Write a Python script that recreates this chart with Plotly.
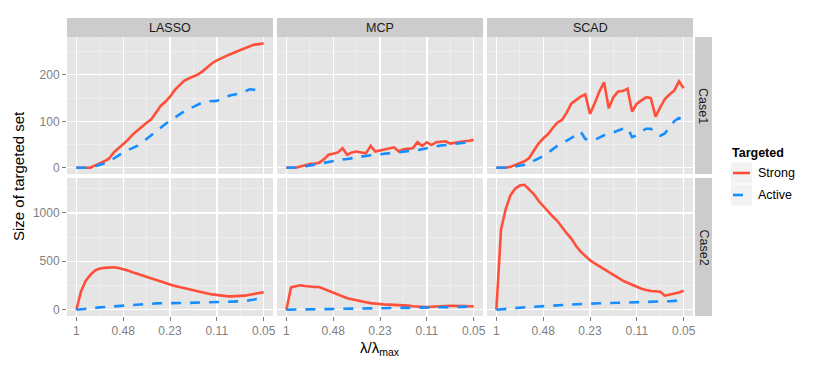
import plotly.graph_objects as go

# ---------------- data ----------------
lam = [1.0, 0.9278, 0.8609, 0.7988, 0.7411, 0.6877, 0.6380, 0.5920, 0.5493, 0.5097,
       0.4729, 0.4388, 0.4071, 0.3777, 0.3505, 0.3252, 0.3017, 0.2800, 0.2598, 0.2410,
       0.2236, 0.2075, 0.1925, 0.1786, 0.1657, 0.1538, 0.1427, 0.1324, 0.1228, 0.1140,
       0.1057, 0.0981, 0.0910, 0.0845, 0.0784, 0.0727, 0.0675, 0.0626, 0.0581, 0.0539, 0.0500]

methods = ["LASSO", "MCP", "SCAD"]
cases = ["Case1", "Case2"]
series_names = ["Strong", "Active"]

x_tick_vals = [1.0, 0.4729, 0.2236, 0.1057, 0.05]
x_tick_text = ["1", "0.48", "0.23", "0.11", "0.05"]
x_minor_vals = [0.6877, 0.3252, 0.1538, 0.0727]

y_tick_vals = {"Case1": [0, 100, 200], "Case2": [0, 500, 1000]}
y_minor_vals = {"Case1": [50, 150, 250], "Case2": [250, 750, 1250]}
y_ranges = {"Case1": [-13.4, 281.4], "Case2": [-65, 1360]}

lasso_c1_strong = [0, 0, 0, 0, 5, 9, 14, 20, 33, 42, 50, 60, 71, 80, 88, 97, 104, 120, 133, 142,
                   153, 167, 178, 187, 192, 196, 201, 208, 217, 225, 231, 236, 241, 245, 249, 253,
                   257, 262, 265, 266, 268]
lasso_c1_active = [0, 0, 0, 0, 3, 6, 9, 13, 20, 27, 33, 38, 43, 47, 54, 62, 70, 78, 87, 96,
                   102, 108, 115, 122, 128, 131, 136, 141, 143, 144, 144, 148, 153, 156, 158, 160,
                   164, 169, 168, 166, 168]
mcp_c1_strong = [0, 0, 0, 3, 6, 8, 9, 11, 18, 28, 30, 33, 42, 28, 33, 35, 33, 31, 47, 35,
                 37, 39, 41, 44, 35, 40, 41, 42, 55, 47, 55, 49, 55, 56, 57, 52, 54, 55, 57, 58, 60]
mcp_c1_active = [0, 0, 0, 1, 3, 5, 6, 8, 11, 13, 14, 16, 18, 19, 20, 22, 24, 26, 27, 28,
                 29, 30, 31, 32, 33, 34, 35, 37, 38, 40, 42, 45, 47, 48, 49, 50, 51, 52, 54, 56, 57]
scad_c1_strong = [0, 0, 0, 2, 6, 9, 14, 21, 38, 52, 63, 72, 85, 97, 103, 118, 138, 146, 153, 158,
                  116, 139, 164, 184, 128, 152, 164, 165, 170, 121, 138, 145, 152, 150, 110, 130,
                  148, 158, 166, 186, 171]
scad_c1_active = [0, 0, 0, 1, 3, 5, 6, 8, 15, 20, 25, 32, 40, 47, 52, 58, 65, 70, 78, 62,
                  60, 60, 65, 70, 72, 76, 80, 84, 86, 66, 70, 78, 84, 84, 74, 69, 74, 88, 100, 107, 102]

lasso_c2_strong = [0, 190, 300, 360, 405, 425, 432, 436, 438, 430, 420, 405, 386, 370, 355, 343,
                   328, 310, 290, 272, 258, 246, 234, 222, 210, 200, 188, 178, 168, 158, 150, 145,
                   140, 138, 138, 138, 145, 155, 163, 172, 180]
lasso_c2_active = [0, 3, 7, 12, 19, 24, 28, 32, 36, 39, 41, 44, 48, 52, 56, 59, 62, 65, 67, 69,
                   69, 69, 69, 69, 70, 71, 72, 73, 74, 76, 77, 78, 79, 79, 80, 82, 88, 97, 105, 115, 122]
mcp_c2_strong = [0, 230, 242, 252, 245, 238, 235, 234, 215, 195, 175, 155, 135, 118, 108, 100,
                 90, 78, 68, 62, 57, 54, 52, 50, 49, 48, 42, 36, 32, 29, 28, 31, 36, 38, 39, 40,
                 41, 40, 38, 36, 34]
mcp_c2_active = [0, 1, 2, 3, 4, 5, 6, 6, 7, 8, 9, 9, 10, 11, 11, 12, 13, 13, 14, 15,
                 15, 16, 17, 17, 18, 19, 19, 20, 21, 21, 22, 23, 23, 24, 25, 26, 27, 28, 29, 30, 32]
scad_c2_strong = [0, 830, 1040, 1180, 1250, 1282, 1290, 1245, 1195, 1125, 1070, 1015, 965, 918,
                  850, 790, 735, 660, 600, 555, 510, 478, 448, 420, 392, 360, 325, 300, 278, 255,
                  232, 216, 204, 193, 190, 185, 145, 155, 165, 178, 196]
scad_c2_active = [0, 5, 10, 15, 20, 24, 26, 28, 30, 32, 34, 36, 40, 44, 48, 51, 54, 57, 59, 61,
                  62, 64, 66, 67, 68, 69, 70, 71, 73, 74, 76, 77, 78, 80, 81, 83, 85, 88, 91, 94, 97]

data = {
    ("Case1", "LASSO"): (lasso_c1_strong, lasso_c1_active),
    ("Case1", "MCP"): (mcp_c1_strong, mcp_c1_active),
    ("Case1", "SCAD"): (scad_c1_strong, scad_c1_active),
    ("Case2", "LASSO"): (lasso_c2_strong, lasso_c2_active),
    ("Case2", "MCP"): (mcp_c2_strong, mcp_c2_active),
    ("Case2", "SCAD"): (scad_c2_strong, scad_c2_active),
}

# ---------------- style / layout ----------------
W, H = 830, 369
FONT = "Liberation Sans, Arial, Helvetica, sans-serif"
RED = "#FF4F3A"
BLUE = "#168EFF"
col_px = [(67, 273), (277, 483), (487, 693)]
row_px = [(37, 174), (178, 316)]
x_range = [0.065, -1.366]  # log10 units, reversed

fig = go.Figure()
layout = dict(
    width=W, height=H,
    margin=dict(l=0, r=0, t=0, b=0),
    paper_bgcolor="white",
    plot_bgcolor="#E5E5E5",
    showlegend=False,
    font=dict(family=FONT, size=12, color="#1A1A1A"),
)

for r, case in enumerate(cases):
    for c, meth in enumerate(methods):
        i = r * 3 + c + 1
        xa = "x" if i == 1 else f"x{i}"
        ya = "y" if i == 1 else f"y{i}"
        strong, active = data[(case, meth)]
        fig.add_trace(go.Scatter(x=lam, y=strong, mode="lines", name="Strong",
                                 line=dict(color=RED, width=2.6), xaxis=xa, yaxis=ya,
                                 legendgroup="Strong", showlegend=False))
        fig.add_trace(go.Scatter(x=lam, y=active, mode="lines", name="Active",
                                 line=dict(color=BLUE, width=2.6, dash="10px,9px"),
                                 xaxis=xa, yaxis=ya, legendgroup="Active", showlegend=False))
        x0, x1 = col_px[c]
        y0, y1 = row_px[r]
        xkey = "xaxis" if i == 1 else f"xaxis{i}"
        ykey = "yaxis" if i == 1 else f"yaxis{i}"
        layout[xkey] = dict(
            domain=[x0 / W, x1 / W], anchor=ya, type="log", range=x_range,
            tickvals=x_tick_vals, ticktext=x_tick_text,
            showticklabels=(r == 1), ticks="outside" if r == 1 else "", ticklen=4,
            tickcolor="#7F7F7F", tickwidth=1,
            tickfont=dict(size=12, color="#7F7F7F", family=FONT),
            showgrid=True, gridcolor="white", gridwidth=1.3,
            minor=dict(tickvals=x_minor_vals, showgrid=True, gridcolor="#F2F2F2",
                       gridwidth=0.7, ticklen=0),
            zeroline=False, showline=False, automargin=False, fixedrange=True,
        )
        layout[ykey] = dict(
            domain=[1 - y1 / H, 1 - y0 / H], anchor=xa, range=y_ranges[case],
            tickvals=y_tick_vals[case],
            showticklabels=(c == 0), ticks="outside" if c == 0 else "", ticklen=4,
            tickcolor="#7F7F7F", tickwidth=1,
            tickfont=dict(size=12, color="#7F7F7F", family=FONT),
            showgrid=True, gridcolor="white", gridwidth=1.3,
            minor=dict(tickvals=y_minor_vals[case], showgrid=True, gridcolor="#F2F2F2",
                       gridwidth=0.7, ticklen=0),
            zeroline=False, showline=False, automargin=False, fixedrange=True,
        )

shapes = []
annotations = []
# top strips
for c, meth in enumerate(methods):
    x0, x1 = col_px[c]
    shapes.append(dict(type="rect", xref="paper", yref="paper",
                       x0=x0 / W, x1=x1 / W, y0=1 - 37 / H, y1=1 - 18 / H,
                       fillcolor="#CCCCCC", line=dict(width=0)))
    annotations.append(dict(text=meth, xref="paper", yref="paper",
                            x=(x0 + x1) / 2 / W, y=1 - 27.5 / H, showarrow=False,
                            xanchor="center", yanchor="middle",
                            font=dict(size=12.5, color="#1A1A1A", family=FONT)))
# right strips
for r, case in enumerate(cases):
    y0, y1 = row_px[r]
    shapes.append(dict(type="rect", xref="paper", yref="paper",
                       x0=695 / W, x1=712 / W, y0=1 - y1 / H, y1=1 - y0 / H,
                       fillcolor="#CCCCCC", line=dict(width=0)))
    annotations.append(dict(text=case, xref="paper", yref="paper",
                            x=703.5 / W, y=1 - (y0 + y1) / 2 / H, showarrow=False,
                            textangle=90, xanchor="center", yanchor="middle",
                            font=dict(size=12.5, color="#1A1A1A", family=FONT)))

# axis titles
annotations.append(dict(text="Size of targeted set", xref="paper", yref="paper",
                        x=19 / W, y=1 - 176 / H, showarrow=False, textangle=-90,
                        xanchor="center", yanchor="middle",
                        font=dict(size=15, color="black", family=FONT)))
annotations.append(dict(text="λ/λ<sub>max</sub>", xref="paper", yref="paper",
                        x=380 / W, y=1 - 348 / H, showarrow=False,
                        xanchor="center", yanchor="middle",
                        font=dict(size=15, color="black", family=FONT)))

# legend (drawn manually to match ggplot keys)
annotations.append(dict(text="<b>Targeted</b>", xref="paper", yref="paper",
                        x=730 / W, y=1 - 152.5 / H, showarrow=False,
                        xanchor="left", yanchor="middle",
                        font=dict(size=12.5, color="black", family=FONT)))
legend_rows = [(173, RED, "solid", series_names[0]), (195, BLUE, "10px,9px", series_names[1])]
for yc, col, dash, name in legend_rows:
    shapes.append(dict(type="rect", xref="paper", yref="paper",
                       x0=731 / W, x1=752 / W, y0=1 - (yc + 10.5) / H, y1=1 - (yc - 10.5) / H,
                       fillcolor="#F2F2F2", line=dict(width=0)))
    shapes.append(dict(type="line", xref="paper", yref="paper",
                       x0=733 / W, x1=750 / W, y0=1 - yc / H, y1=1 - yc / H,
                       line=dict(color=col, width=2.6, dash=dash)))
    annotations.append(dict(text=name, xref="paper", yref="paper",
                            x=755.5 / W, y=1 - yc / H, showarrow=False,
                            xanchor="left", yanchor="middle",
                            font=dict(size=12.5, color="black", family=FONT)))

layout["shapes"] = shapes
layout["annotations"] = annotations
fig.update_layout(**layout)
fig.write_html(
    "out.html",
    config={"displayModeBar": False, "staticPlot": True},
    post_script="document.body.style.margin='0px';document.body.style.overflow='hidden';",
)
